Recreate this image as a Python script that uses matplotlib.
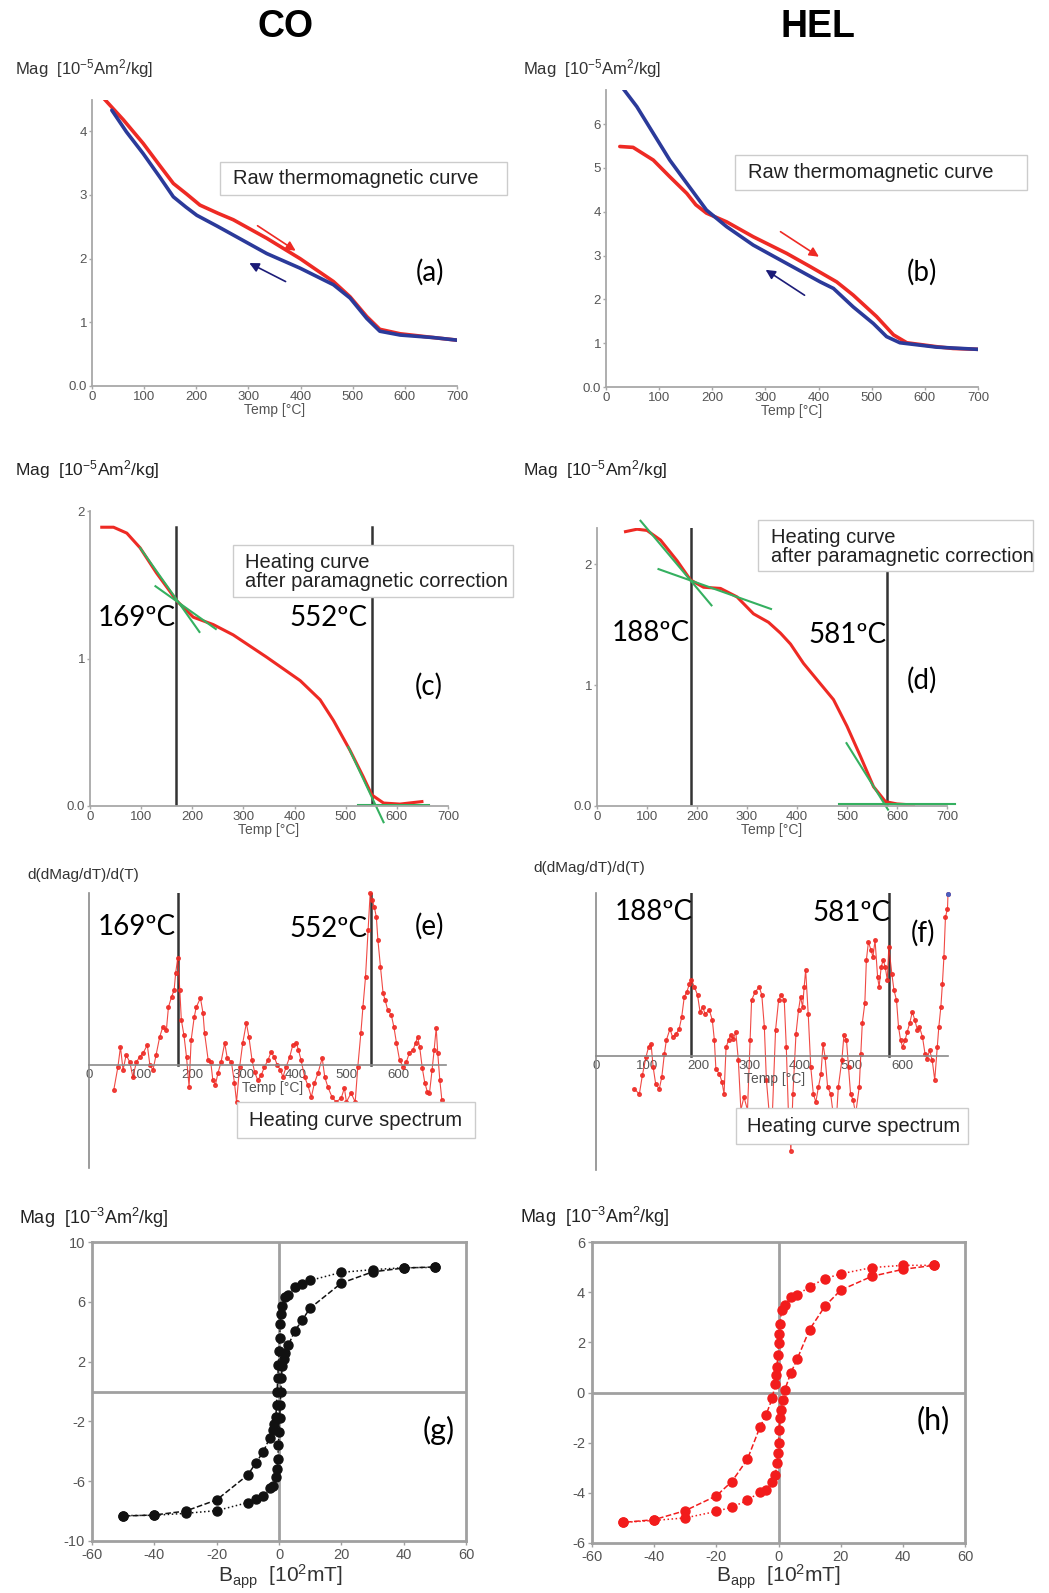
import matplotlib
matplotlib.use('Agg')
import matplotlib.pyplot as plt
from matplotlib.patches import Rectangle

W, H = 1049, 1593

plt.rcParams['font.family'] = ['Liberation Sans', 'DejaVu Sans']
plt.rcParams['mathtext.fontset'] = 'custom'
plt.rcParams['mathtext.rm'] = 'Liberation Sans'
plt.rcParams['mathtext.it'] = 'Liberation Sans:italic'
plt.rcParams['mathtext.bf'] = 'Liberation Sans:bold'
plt.rcParams['axes.unicode_minus'] = False

# ---- (a) CO raw curves
a_heat_T = [22, 60, 98, 130, 156, 182, 207, 242, 271, 335, 399, 431, 463, 495, 527, 552, 591, 655, 700]
a_heat_M = [4.52, 4.18, 3.81, 3.46, 3.18, 3.01, 2.84, 2.71, 2.61, 2.32, 2.00, 1.82, 1.64, 1.40, 1.09, 0.89, 0.82, 0.76, 0.72]
a_cool_T = [38, 66, 98, 130, 156, 180, 201, 240, 271, 335, 399, 463, 495, 527, 552, 591, 655, 700]
a_cool_M = [4.33, 3.99, 3.65, 3.28, 2.97, 2.81, 2.68, 2.51, 2.37, 2.08, 1.85, 1.59, 1.38, 1.06, 0.86, 0.80, 0.76, 0.72]

# ---- (b) HEL raw curves
b_heat_T = [26, 51, 89, 120, 152, 169, 189, 227, 277, 340, 384, 434, 465, 509, 541, 566, 622, 653, 700]
b_heat_M = [5.49, 5.47, 5.18, 4.80, 4.42, 4.16, 3.97, 3.77, 3.43, 3.05, 2.75, 2.40, 2.10, 1.61, 1.19, 1.01, 0.92, 0.88, 0.86]
b_cool_T = [33, 58, 89, 120, 152, 189, 227, 277, 340, 403, 428, 465, 503, 528, 553, 622, 700]
b_cool_M = [6.80, 6.40, 5.79, 5.18, 4.65, 4.04, 3.66, 3.24, 2.82, 2.40, 2.25, 1.83, 1.45, 1.15, 1.01, 0.91, 0.86]

# ---- (c) CO corrected heating curve
c_T = [23, 46, 72, 98, 130, 170, 202, 241, 280, 345, 411, 450, 476, 508, 534, 551, 574, 606, 649]
c_M = [1.89, 1.89, 1.85, 1.75, 1.58, 1.39, 1.28, 1.23, 1.16, 1.01, 0.85, 0.72, 0.58, 0.38, 0.20, 0.075, 0.02, 0.013, 0.03]
c_tangents = [([98, 214], [1.75, 1.18]), ([128, 246], [1.49, 1.20]),
              ([505, 574], [0.40, -0.11]), ([525, 662], [0.01, 0.01])]
c_temps = [169, 552]

# ---- (d) HEL corrected heating curve
d_T = [57, 80, 100, 127, 160, 187, 213, 247, 280, 313, 343, 367, 387, 413, 447, 473, 500, 527, 553, 577, 600, 633]
d_M = [2.27, 2.29, 2.28, 2.20, 2.03, 1.87, 1.81, 1.80, 1.73, 1.59, 1.52, 1.43, 1.34, 1.18, 1.01, 0.88, 0.66, 0.41, 0.16, 0.036, 0.017, 0.008]
d_tangents = [([87, 229], [2.36, 1.66]), ([123, 348], [1.96, 1.63]),
              ([499, 582], [0.52, -0.03]), ([485, 717], [0.02, 0.02])]
d_temps = [188, 581]

# ---- (e) CO heating curve spectrum
e_T = [48, 56, 61, 66, 72, 79, 85, 92, 98, 105, 113, 118, 124, 130, 137, 143, 150, 154, 160, 165,
       168, 172, 176, 179, 184, 189, 194, 198, 204, 208, 216, 221, 224, 231, 236, 240, 245, 250, 256, 263,
       268, 276, 282, 286, 292, 298, 305, 310, 316, 321, 327, 334, 340, 347, 353, 359, 365, 371, 376, 382,
       389, 395, 402, 406, 411, 418, 424, 431, 437, 444, 452, 457, 463, 471, 479, 489, 495, 499, 508, 516,
       521, 527, 531, 536, 541, 545, 549, 553, 557, 560, 565, 570, 574, 579, 586, 591, 596, 602, 609, 615,
       621, 628, 633, 637, 641, 646, 651, 656, 660, 665, 669, 673, 676, 680, 684]
e_y = [-0.25, -0.02, 0.18, -0.05, 0.10, 0.03, -0.12, 0.03, 0.08, 0.12, 0.20, 0.00, -0.05, 0.10, 0.28, 0.38, 0.35, 0.58, 0.68, 0.75,
       0.92, 1.07, 0.75, 0.45, 0.30, 0.08, -0.22, 0.25, 0.48, 0.58, 0.67, 0.52, 0.32, 0.05, 0.03, -0.15, -0.20, -0.08, 0.03, 0.22,
       0.07, 0.03, -0.18, -0.37, -0.02, 0.22, 0.42, 0.28, 0.05, -0.07, -0.15, -0.10, -0.02, 0.05, 0.13, 0.08, 0.00, -0.05, -0.12, -0.02,
       0.08, 0.20, 0.22, 0.15, 0.05, -0.12, -0.20, -0.32, -0.18, -0.08, 0.07, -0.12, -0.22, -0.32, -0.37, -0.33, -0.23, -0.37, -0.28, -0.37,
       -0.02, 0.32, 0.58, 0.88, 1.35, 1.72, 1.65, 1.58, 1.48, 1.25, 0.98, 0.72, 0.65, 0.55, 0.50, 0.38, 0.22, 0.05, -0.02, 0.03,
       0.12, 0.15, 0.22, 0.28, 0.18, -0.03, -0.18, -0.27, -0.28, -0.05, 0.15, 0.37, 0.12, -0.15, -0.35]
e_lines = [172, 546]

# ---- (f) HEL heating curve spectrum
f_T = [75, 85, 91, 98, 103, 108, 112, 117, 124, 129, 134, 138, 145, 150, 157, 163, 168, 173, 178, 183,
       187, 193, 199, 204, 209, 214, 222, 228, 232, 235, 242, 247, 251, 255, 260, 264, 269, 274, 279, 284,
       290, 297, 302, 305, 312, 320, 325, 330, 334, 339, 346, 352, 358, 363, 369, 373, 377, 382, 386, 392,
       397, 401, 405, 408, 411, 416, 421, 426, 431, 436, 441, 445, 449, 454, 460, 465, 470, 475, 482, 486,
       491, 495, 499, 504, 509, 516, 519, 522, 527, 530, 534, 539, 543, 547, 552, 555, 559, 563, 567, 571,
       574, 580, 584, 589, 593, 597, 601, 606, 610, 615, 620, 625, 630, 634, 640, 645, 649, 654, 659, 664,
       669, 672, 676, 679, 682, 685, 689, 690]
f_y = [-0.33, -0.38, -0.19, -0.01, 0.09, 0.12, -0.11, -0.28, -0.33, -0.21, 0.02, 0.16, 0.27, 0.19, 0.22, 0.27, 0.39, 0.59, 0.64, 0.72,
       0.76, 0.69, 0.61, 0.44, 0.49, 0.42, 0.46, 0.36, 0.16, -0.13, -0.18, -0.26, -0.38, 0.09, 0.16, 0.21, 0.17, 0.24, -0.04, -0.54,
       -0.41, -0.54, 0.16, 0.56, 0.64, 0.69, 0.61, 0.29, -0.24, -0.54, -0.54, 0.26, 0.56, 0.61, 0.56, 0.09, -0.54, -0.95, -0.38, 0.22,
       0.46, 0.59, 0.49, 0.69, 0.86, 0.42, -0.11, -0.38, -0.46, -0.31, -0.18, 0.12, -0.01, -0.31, -0.38, -0.58, -0.74, -0.31, -0.04, 0.21,
       0.16, -0.11, -0.38, -0.44, -0.58, -0.31, 0.02, 0.33, 0.53, 0.96, 1.14, 1.06, 0.99, 1.16, 0.79, 0.69, 0.89, 0.96, 0.89, 0.76,
       1.09, 0.82, 0.66, 0.56, 0.29, 0.16, 0.09, 0.16, 0.24, 0.33, 0.44, 0.36, 0.26, 0.29, 0.19, 0.02, -0.03, 0.06, -0.04, -0.24,
       0.09, 0.29, 0.49, 0.72, 0.99, 1.39, 1.47, 1.62]
f_lines = [187, 574]

# ---- (g) CO hysteresis loop
g_up_B = [50, 40, 30, 20, 10, 7.5, 5, 3, 2, 1, 0.6, 0.4, 0.2, 0, -0.2, -0.4, -0.6, -0.8, -1, -1.5, -2, -3, -5, -7.5, -10, -20, -30, -40, -50]
g_up_M = [8.30, 8.28, 8.15, 7.97, 7.43, 7.19, 6.96, 6.47, 6.30, 5.70, 5.20, 4.50, 3.60, 2.70, 1.80, 0.90, 0.00, -0.90, -1.70, -2.20, -2.57, -3.10, -4.02, -4.80, -5.58, -7.25, -8.00, -8.26, -8.33]
g_lo_B = [-50, -40, -30, -20, -10, -7.5, -5, -3, -2, -1, -0.6, -0.4, -0.2, 0, 0.2, 0.4, 0.6, 0.8, 1, 1.5, 2, 3, 5, 7.5, 10, 20, 30, 40, 50]
g_lo_M = [-8.30, -8.28, -8.15, -7.97, -7.43, -7.19, -6.96, -6.47, -6.30, -5.70, -5.20, -4.50, -3.60, -2.70, -1.80, -0.90, 0.00, 0.90, 1.70, 2.20, 2.57, 3.10, 4.02, 4.80, 5.58, 7.25, 8.00, 8.26, 8.33]

# ---- (h) HEL hysteresis loop
h_up_B = [50, 40, 30, 20, 15, 10, 6, 4, 2, 1, 0.5, 0.3, 0, -0.2, -0.5, -0.9, -1.1, -2, -4, -6, -10, -15, -20, -30, -40, -50]
h_up_M = [5.07, 5.07, 4.98, 4.73, 4.54, 4.22, 3.88, 3.79, 3.48, 3.28, 2.75, 2.35, 1.96, 1.49, 1.03, 0.70, 0.33, -0.23, -0.89, -1.39, -2.66, -3.55, -4.12, -4.71, -5.07, -5.18]
h_lo_B = [-50, -40, -30, -20, -15, -10, -6, -4, -2, -1, -0.5, -0.2, 0, 0.2, 0.5, 0.9, 1.3, 2, 4, 6, 10, 15, 20, 30, 40, 50]
h_lo_M = [-5.18, -5.10, -5.00, -4.74, -4.57, -4.30, -3.97, -3.88, -3.55, -3.28, -2.82, -2.42, -2.02, -1.49, -1.03, -0.70, -0.30, 0.10, 0.79, 1.33, 2.51, 3.45, 4.08, 4.63, 4.91, 5.07]

GREY = '#a8a8a8'
TXT = '#555555'
RED = '#ee2a24'
BLUE = '#2b3a9a'
GREEN = '#35b060'
CAL = ['Lato', 'DejaVu Sans']

fig = plt.figure(figsize=(W / 100, H / 100), dpi=100)


def rect(x0, y0, x1, y1):
    # pixel box (top-left origin) -> figure fraction
    return [x0 / W, 1 - y1 / H, (x1 - x0) / W, (y1 - y0) / H]


def pos(x, y):
    return x / W, 1 - y / H


def label_box(x0, y0, x1, y1, text, tx, ty):
    fig.patches.append(Rectangle((x0 / W, 1 - y1 / H), (x1 - x0) / W, (y1 - y0) / H,
                                 transform=fig.transFigure, fc='white', ec='#cccccc', lw=1, zorder=1))
    fig.text(*pos(tx, ty), text, ha='left', va='center', fontsize=14.5, color='#222222',
             linespacing=1.05, zorder=3)


def thermo_axes(box, ymax, yticks, xmax=700):
    ax = fig.add_axes(rect(*box))
    ax.set_xlim(0, xmax)
    ax.set_ylim(0, ymax)
    for s in ['top', 'right']:
        ax.spines[s].set_visible(False)
    for s in ['left', 'bottom']:
        ax.spines[s].set_color(GREY)
        ax.spines[s].set_linewidth(1.3)
    ax.set_xticks(range(0, 701, 100))
    ax.set_yticks(yticks)
    ax.set_yticklabels(['0.0'] + [str(v) for v in yticks[1:]])
    ax.tick_params(labelsize=9.5, length=2, width=1, color=GREY, labelcolor=TXT, pad=1.5)
    ax.set_xlabel('Temp [°C]', fontsize=10, color=TXT, labelpad=0)
    ax.patch.set_alpha(0)
    return ax


def spectrum_axes(box, ylo, yhi, xmax):
    ax = fig.add_axes(rect(*box))
    ax.set_xlim(0, xmax)
    ax.set_ylim(ylo, yhi)
    for s in ['top', 'right']:
        ax.spines[s].set_visible(False)
    ax.spines['bottom'].set_position(('data', 0))
    ax.spines['left'].set_position(('data', 0))
    for s in ['left', 'bottom']:
        ax.spines[s].set_color('#8a8a8a')
        ax.spines[s].set_linewidth(1.2)
    ax.set_xticks(range(0, 601, 100))
    ax.set_yticks([])
    ax.tick_params(labelsize=9.5, length=0, labelcolor=TXT, pad=3)
    ax.patch.set_alpha(0)
    return ax


def loop_axes(box, ylim, yticks, color, up, lo):
    ax = fig.add_axes(rect(*box))
    ax.set_xlim(-60, 60)
    ax.set_ylim(*ylim)
    for s in ax.spines.values():
        s.set_color('#a0a0a0')
        s.set_linewidth(2)
    ax.axhline(0, color='#a0a0a0', lw=2, zorder=1)
    ax.axvline(0, color='#a0a0a0', lw=2, zorder=1)
    ax.set_xticks(range(-60, 61, 20))
    ax.set_yticks(yticks)
    ax.tick_params(labelsize=10.5, length=3, width=1, color='#a0a0a0', labelcolor=TXT, pad=2)
    for (B, M), pos_style, neg_style in [(up, ':', '--'), (lo, '--', ':')]:
        pB = [b for b in B if b >= 0]
        pM = [m for b, m in zip(B, M) if b >= 0]
        nB = [b for b in B if b <= 0]
        nM = [m for b, m in zip(B, M) if b <= 0]
        ax.plot(pB, pM, ls=pos_style, color=color, lw=1.1, zorder=2)
        ax.plot(nB, nM, ls=neg_style, color=color, lw=1.1, zorder=2)
        ax.plot(B, M, ls='none', marker='o', ms=6.5, mfc=color, mec=color, mew=1, zorder=3)
    return ax


# titles
fig.text(*pos(286, 27), 'CO', ha='center', va='center', fontsize=27, fontweight='bold')
fig.text(*pos(818, 27), 'HEL', ha='center', va='center', fontsize=27, fontweight='bold')

mag5 = 'Mag  [10$^{-5}$Am$^{2}$/kg]'
mag3 = 'Mag  [10$^{-3}$Am$^{2}$/kg]'

# ---------------- (a)
ax = thermo_axes((92, 100, 457, 386), 4.49, [0, 1, 2, 3, 4])
ax.plot(a_heat_T, a_heat_M, color=RED, lw=2.6, solid_capstyle='round', solid_joinstyle='round')
ax.plot(a_cool_T, a_cool_M, color=BLUE, lw=2.6, solid_capstyle='round', solid_joinstyle='round')
ax.annotate('', xy=(395, 2.10), xytext=(313, 2.54),
            arrowprops=dict(arrowstyle='-|>', color=RED, lw=1.2, mutation_scale=14))
ax.annotate('', xy=(297, 1.95), xytext=(376, 1.62),
            arrowprops=dict(arrowstyle='-|>', color='#1c1c78', lw=1.2, mutation_scale=14))
fig.text(*pos(15, 69), mag5, ha='left', va='center', fontsize=12, color='#333333')
label_box(220, 162, 507, 195, 'Raw thermomagnetic curve', 233, 178)
fig.text(*pos(430, 272), '(a)', ha='center', va='center', fontsize=20, family=CAL)

# ---------------- (b)
ax = thermo_axes((606, 90, 978, 387), 6.78, [0, 1, 2, 3, 4, 5, 6])
ax.plot(b_heat_T, b_heat_M, color=RED, lw=2.6, solid_capstyle='round', solid_joinstyle='round')
ax.plot(b_cool_T, b_cool_M, color=BLUE, lw=2.6, solid_capstyle='round', solid_joinstyle='round')
ax.annotate('', xy=(405, 2.94), xytext=(324, 3.58),
            arrowprops=dict(arrowstyle='-|>', color=RED, lw=1.2, mutation_scale=14))
ax.annotate('', xy=(296, 2.71), xytext=(378, 2.06),
            arrowprops=dict(arrowstyle='-|>', color='#1c1c78', lw=1.2, mutation_scale=14))
fig.text(*pos(523, 69), mag5, ha='left', va='center', fontsize=12, color='#333333')
label_box(735, 155, 1027, 190, 'Raw thermomagnetic curve', 748, 172)
fig.text(*pos(922, 272), '(b)', ha='center', va='center', fontsize=20, family=CAL)

# ---------------- (c)
ax = thermo_axes((90, 511, 448, 806), 2.0, [0, 1, 2])
for t in c_temps:
    ax.plot([t, t], [0, 1.89], color='#333333', lw=1.8)
ax.plot(c_T, c_M, color=RED, lw=2.2, solid_joinstyle='round')
for xs, ys in c_tangents:
    ax.plot(xs, ys, color=GREEN, lw=1.5, clip_on=False)
fig.text(*pos(15, 470), mag5, ha='left', va='center', fontsize=12.5, color='#222222')
label_box(233, 545, 513, 597, 'Heating curve\nafter paramagnetic correction', 245, 572)
fig.text(*pos(137, 618), '169ºC', ha='center', va='center', fontsize=20, family=CAL)
fig.text(*pos(328, 618), '552ºC', ha='center', va='center', fontsize=20, family=CAL)
fig.text(*pos(429, 686), '(c)', ha='center', va='center', fontsize=20, family=CAL)

# ---------------- (d)
ax = thermo_axes((597, 528, 947, 806), 2.3, [0, 1, 2])
for t in d_temps:
    ax.plot([t, t], [0, 2.30], color='#333333', lw=1.8)
ax.plot(d_T, d_M, color=RED, lw=2.2, solid_joinstyle='round')
for xs, ys in d_tangents:
    ax.plot(xs, ys, color=GREEN, lw=1.5, clip_on=False)
fig.text(*pos(523, 470), mag5, ha='left', va='center', fontsize=12.5, color='#222222')
label_box(758, 520, 1033, 571, 'Heating curve\nafter paramagnetic correction', 771, 547)
fig.text(*pos(651, 633), '188ºC', ha='center', va='center', fontsize=20, family=CAL)
fig.text(*pos(848, 635), '581ºC', ha='center', va='center', fontsize=20, family=CAL)
fig.text(*pos(922, 680), '(d)', ha='center', va='center', fontsize=20, family=CAL)

# ---------------- (e)
ax = spectrum_axes((89, 893, 446, 1168), -1.03, 1.72, 692)
for t in e_lines:
    ax.plot([t, t], [0, 1.72], color='#333333', lw=1.8)
ax.plot(e_T, e_y, color=RED, lw=0.8, marker='o', ms=2.6, alpha=0.85, clip_on=False)
fig.text(*pos(27, 875), 'd(dMag/dT)/d(T)', ha='left', va='center', fontsize=11, color='#333333')
fig.text(*pos(273, 1088), 'Temp [°C]', ha='center', va='center', fontsize=10, color=TXT)
label_box(237, 1102, 475, 1138, 'Heating curve spectrum', 249, 1121)
fig.text(*pos(137, 927), '169ºC', ha='center', va='center', fontsize=20, family=CAL)
fig.text(*pos(328, 929), '552ºC', ha='center', va='center', fontsize=20, family=CAL)
fig.text(*pos(430, 926), '(e)', ha='center', va='center', fontsize=20, family=CAL)

# ---------------- (f)
ax = spectrum_axes((596, 893, 948, 1170), -1.14, 1.63, 690)
for t in f_lines:
    ax.plot([t, t], [0, 1.63], color='#333333', lw=1.8)
ax.plot(f_T, f_y, color=RED, lw=0.8, marker='o', ms=2.6, alpha=0.85, clip_on=False)
ax.plot(f_T[-1:], f_y[-1:], ls='none', marker='o', ms=2.6, color='#4a5fc0', clip_on=False)
fig.text(*pos(533, 868), 'd(dMag/dT)/d(T)', ha='left', va='center', fontsize=11, color='#333333')
fig.text(*pos(775, 1079), 'Temp [°C]', ha='center', va='center', fontsize=10, color=TXT)
label_box(736, 1108, 968, 1144, 'Heating curve spectrum', 747, 1127)
fig.text(*pos(654, 912), '188ºC', ha='center', va='center', fontsize=20, family=CAL)
fig.text(*pos(852, 913), '581ºC', ha='center', va='center', fontsize=20, family=CAL)
fig.text(*pos(923, 933), '(f)', ha='center', va='center', fontsize=20, family=CAL)

# ---------------- (g)
loop_axes((92, 1242, 466, 1541), (-10, 10), [-10, -6, -2, 2, 6, 10], '#111111',
          (g_up_B, g_up_M), (g_lo_B, g_lo_M))
fig.text(*pos(19, 1218), mag3, ha='left', va='center', fontsize=13, color='#222222')
fig.text(*pos(280, 1577), 'B$_{\\rm app}$  [10$^{2}$mT]', ha='center', va='center', fontsize=15, color='#333333')
fig.text(*pos(439, 1430), '(g)', ha='center', va='center', fontsize=22, family=CAL)

# ---------------- (h)
loop_axes((592, 1242, 965, 1543), (-6, 6), [-6, -4, -2, 0, 2, 4, 6], '#f21c1c',
          (h_up_B, h_up_M), (h_lo_B, h_lo_M))
fig.text(*pos(520, 1217), mag3, ha='left', va='center', fontsize=13, color='#222222')
fig.text(*pos(778, 1577), 'B$_{\\rm app}$  [10$^{2}$mT]', ha='center', va='center', fontsize=15, color='#333333')
fig.text(*pos(933, 1420), '(h)', ha='center', va='center', fontsize=22, family=CAL)

fig.savefig('out.png', dpi=100)
